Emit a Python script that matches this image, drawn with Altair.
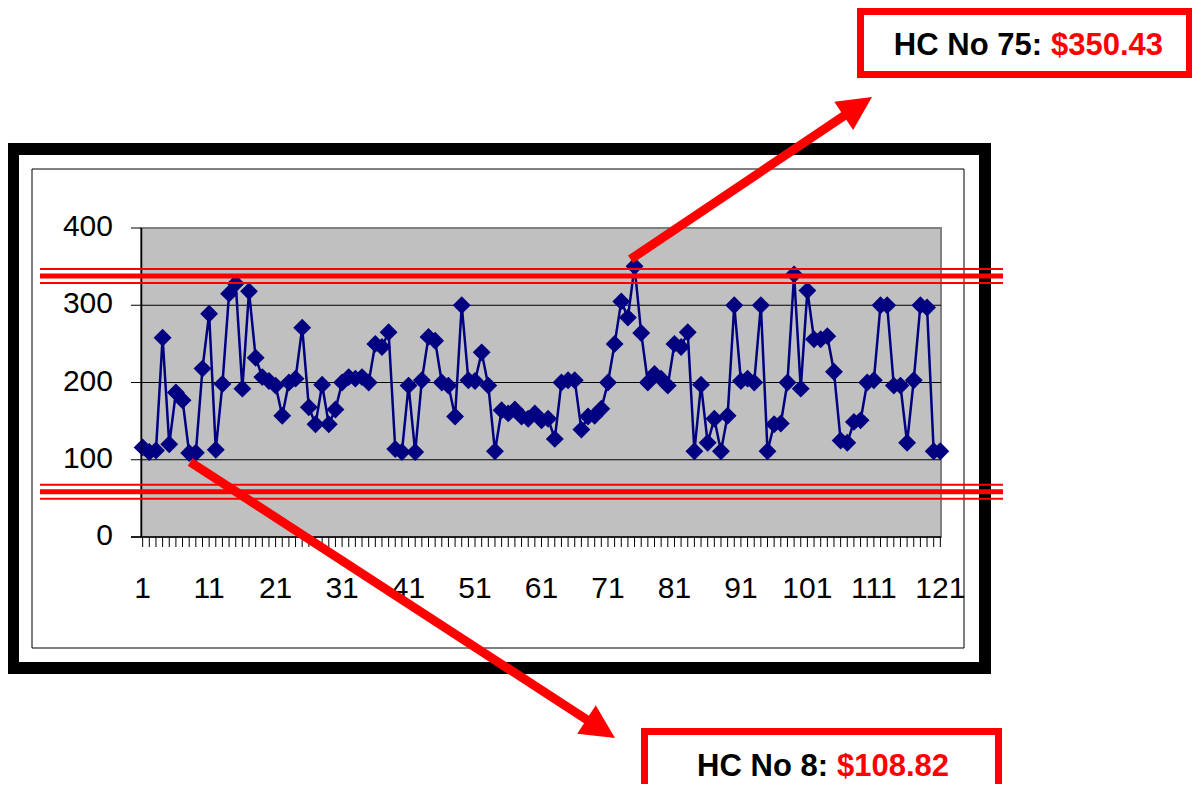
import math
import altair as alt
import pandas as pd

# ---------------- data ----------------
hc_numbers = list(range(1, 122))
hc_costs = [116, 110, 112, 258, 120, 187, 177, 108.82, 109, 218, 289, 113, 198, 315, 328, 192, 318, 232, 207,
            202, 196, 157, 200, 205, 271, 168, 146, 197, 146, 165, 200, 207, 205, 207, 200, 250, 246, 265, 114,
            110, 196, 110, 203, 259, 254, 200, 196, 156, 300, 203, 202, 239, 196, 111, 164, 160, 165, 156, 153,
            160, 151, 153, 127, 200, 203, 203, 139, 156, 157, 166, 200, 250, 305, 284, 350.43, 264, 200, 211,
            205, 196, 250, 246, 265, 111, 197, 122, 153, 111, 157, 300, 202, 205, 200, 300, 111, 146, 147, 200, 340,
            192, 319, 256, 256, 260, 214, 125, 122, 149, 151, 200, 203, 300, 300, 196, 196, 122, 203, 300, 297, 111, 111]
assert len(hc_costs) == len(hc_numbers)

y_tick_values = [0, 100, 200, 300, 400]
x_label_values = [1, 11, 21, 31, 41, 51, 61, 71, 81, 91, 101, 111, 121]
grid_values = [100, 200, 300]
control_limits = [338, 58.6]       # upper / lower red lines
highlight_high = 75
highlight_low = 8

df = pd.DataFrame({"hc": hc_numbers, "cost": hc_costs})
grid_df = pd.DataFrame({"v": grid_values})
ytick_df = pd.DataFrame({"v": y_tick_values})
xlab_df = pd.DataFrame({"v": x_label_values})
limit_df = pd.DataFrame({"limit": control_limits})
one = pd.DataFrame({"a": [0]})
hi_df = df[df.hc == highlight_high]
lo_df = df[df.hc == highlight_low]

# ---------------- layout helpers (page px -> plot px) ----------------
X0, Y0 = 141, 228
W, H = 800, 309
def px(x):
    return x - X0
def py(y):
    return y - Y0

FONT = "Liberation Sans"
NAVY = "#000080"
RED = "#FF0000"

xs = alt.Scale(domain=[0.75, 121.1], nice=False, zero=False)
ys = alt.Scale(domain=[0, 400], nice=False)

# frames
frame_outer = alt.Chart(one).mark_rect(fill="white", fillOpacity=0, stroke="black", strokeWidth=12).encode(
    x=alt.value(px(13)), x2=alt.value(px(985)), y=alt.value(py(149)), y2=alt.value(py(668)))
frame_inner = alt.Chart(one).mark_rect(fill="white", fillOpacity=0, stroke="#000000", strokeWidth=1).encode(
    x=alt.value(px(32)), x2=alt.value(px(964)), y=alt.value(py(169)), y2=alt.value(py(648)))
plot_bg = alt.Chart(one).mark_rect(fill="#C0C0C0", stroke="#808080", strokeWidth=2).encode(
    x=alt.value(0), x2=alt.value(W), y=alt.value(0), y2=alt.value(H))

grid = alt.Chart(grid_df).mark_rule(color="#000000", strokeWidth=1).encode(
    y=alt.Y("v:Q", scale=ys, axis=None), x=alt.value(0), x2=alt.value(W))

# axes drawn as marks through the scales
dom_left = alt.Chart(one).mark_rule(color="black", strokeWidth=1.5).encode(
    x=alt.value(0.5), y=alt.value(0), y2=alt.value(H))
dom_bottom = alt.Chart(one).mark_rule(color="black", strokeWidth=1.5).encode(
    y=alt.value(H), x=alt.value(-10), x2=alt.value(W))
y_ticks = alt.Chart(ytick_df).mark_rule(color="black", strokeWidth=1).encode(
    y=alt.Y("v:Q", scale=ys, axis=None), x=alt.value(-10), x2=alt.value(0))
y_labels = alt.Chart(ytick_df).mark_text(font=FONT, fontSize=30, color="black", align="right",
                                         baseline="alphabetic", dy=8).encode(
    y=alt.Y("v:Q", scale=ys, axis=None), text="v:Q", x=alt.value(px(113)))
x_ticks = alt.Chart(df).mark_rule(color="black", strokeWidth=1).encode(
    x=alt.X("hc:Q", scale=xs, axis=None), y=alt.value(H), y2=alt.value(H + 10))
x_labels = alt.Chart(xlab_df).mark_text(font=FONT, fontSize=30, color="black", align="center",
                                        baseline="alphabetic").encode(
    x=alt.X("v:Q", scale=xs, axis=None), text="v:Q", y=alt.value(py(598)))

line = alt.Chart(df).mark_line(color=NAVY, strokeWidth=2.5).encode(
    x=alt.X("hc:Q", scale=xs, axis=None), y=alt.Y("cost:Q", scale=ys, axis=None))
points = alt.Chart(df).mark_point(shape="diamond", filled=True, color=NAVY, size=320, opacity=1).encode(
    x=alt.X("hc:Q", scale=xs, axis=None), y=alt.Y("cost:Q", scale=ys, axis=None))

# red control lines (double-line style)
lim_kw = dict(y=alt.Y("limit:Q", scale=ys, axis=None), x=alt.value(px(40)), x2=alt.value(px(1003)))
lim_mid = alt.Chart(limit_df).mark_rule(color=RED, strokeWidth=5).encode(**lim_kw)
lim_a = alt.Chart(limit_df).mark_rule(color=RED, strokeWidth=2, yOffset=-7).encode(**lim_kw)
lim_b = alt.Chart(limit_df).mark_rule(color=RED, strokeWidth=2, yOffset=7).encode(**lim_kw)

# arrows
HEAD = 34
def arrow(src_df, start_page, tip_page, xoff, yoff):
    dx = tip_page[0] - start_page[0]
    dy = tip_page[1] - start_page[1]
    L = math.hypot(dx, dy)
    ux, uy = dx / L, dy / L
    cx, cy = tip_page[0] - ux * HEAD / 2, tip_page[1] - uy * HEAD / 2
    ang = math.degrees(math.atan2(ux, -uy)) % 360
    shaft = alt.Chart(src_df).mark_rule(color=RED, strokeWidth=9, xOffset=xoff, yOffset=yoff).encode(
        x=alt.X("hc:Q", scale=xs, axis=None), y=alt.Y("cost:Q", scale=ys, axis=None),
        x2=alt.value(px(cx)), y2=alt.value(py(cy)))
    head = alt.Chart(one).mark_point(shape="M0,-1L1,1L-1,1Z", filled=True, color=RED, opacity=1,
                                     size=HEAD * HEAD, angle=ang).encode(
        x=alt.value(px(cx)), y=alt.value(py(cy)))
    return shaft, head

up_shaft, up_head = arrow(hi_df, (629, 259), (872, 97), -4, -7)
lo_shaft, lo_head = arrow(lo_df, (190, 462), (615, 738), 1, 9)

# annotation boxes
box_hi = alt.Chart(one).mark_rect(fill="white", stroke=RED, strokeWidth=7).encode(
    x=alt.value(px(860.5)), x2=alt.value(px(1189.5)), y=alt.value(py(11.5)), y2=alt.value(py(74.5)))
box_lo = alt.Chart(one).mark_rect(fill="white", stroke=RED, strokeWidth=7).encode(
    x=alt.value(px(644.5)), x2=alt.value(px(998.5)), y=alt.value(py(731.5)), y2=alt.value(py(795)))

def box_text(src_df, split_left, split_right, base_y):
    b = alt.Chart(src_df).transform_calculate(
        lbl="'HC No ' + datum.hc + ':'", val="'$' + format(datum.cost, '.2f')")
    t1 = b.mark_text(font=FONT, fontSize=31, fontWeight="bold", color="black", align="right",
                     baseline="alphabetic").encode(text="lbl:N", x=alt.value(px(split_left)),
                                                   y=alt.value(py(base_y)))
    t2 = b.mark_text(font=FONT, fontSize=31, fontWeight="bold", color=RED, align="left",
                     baseline="alphabetic").encode(text="val:N", x=alt.value(px(split_right)),
                                                   y=alt.value(py(base_y)))
    return t1, t2

hi_t1, hi_t2 = box_text(hi_df, 1042, 1051, 55)
lo_t1, lo_t2 = box_text(lo_df, 828, 837, 776)

chart = alt.layer(
    frame_outer, frame_inner, plot_bg, grid, y_ticks, y_labels, x_labels, line, points,
    dom_left, dom_bottom, x_ticks,
    lim_mid, lim_a, lim_b, up_shaft, lo_shaft, up_head, lo_head,
    box_hi, box_lo, hi_t1, hi_t2, lo_t1, lo_t2
).properties(
    width=W, height=H,
    autosize=alt.AutoSizeParams(type="none"),
    padding={"left": X0 - 8, "top": Y0 - 8, "right": 1184 - (X0 - 8) - W, "bottom": 776 - (Y0 - 8) - H},
    background="white",
).configure_view(strokeWidth=0)

chart.save("out.html", embed_options={"renderer": "svg", "actions": False})
